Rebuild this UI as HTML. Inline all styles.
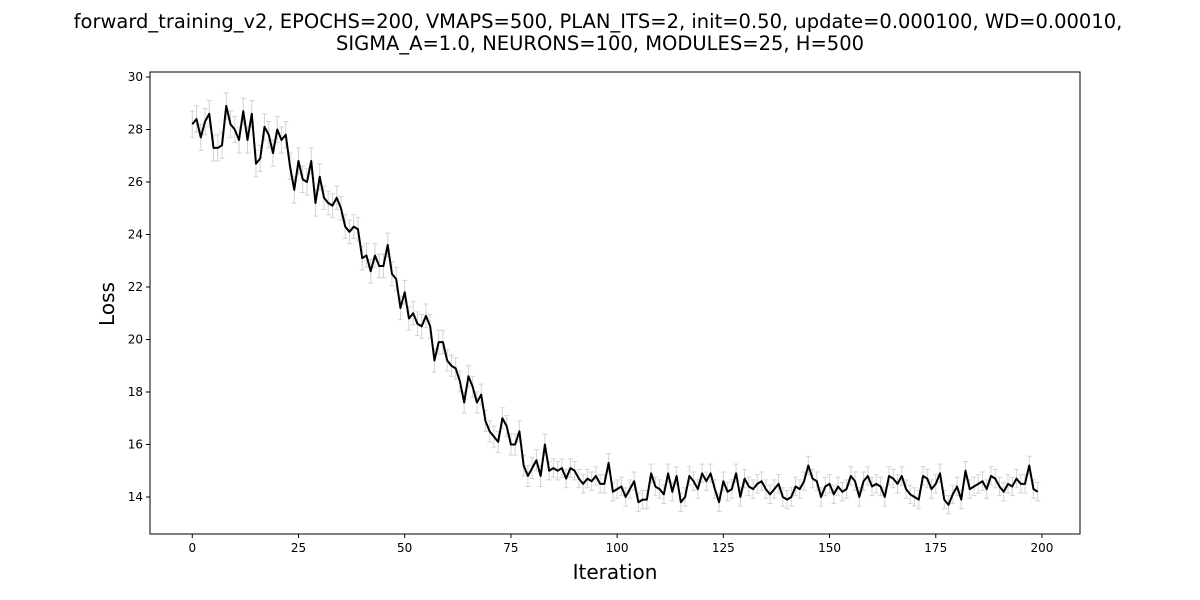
<!DOCTYPE html>
<html><head><meta charset="utf-8"><style>
body{margin:0;background:#fff;}
svg{display:block;font-family:"DejaVu Sans","Liberation Sans",sans-serif;}
</style></head><body>
<svg id="chart" width="1200" height="600">
<text x="598" y="28" text-anchor="middle" font-size="19.5">forward_training_v2, EPOCHS=200, VMAPS=500, PLAN_ITS=2, init=0.50, update=0.000100, WD=0.00010,</text>
<text x="600" y="50" text-anchor="middle" font-size="19.5">SIGMA_A=1.0, NEURONS=100, MODULES=25, H=500</text>
<text x="615" y="579" text-anchor="middle" font-size="20">Iteration</text>
<text transform="translate(114,304) rotate(-90)" text-anchor="middle" font-size="20">Loss</text>
<g id="errs"></g><g id="line"></g><g id="axes"></g>
</svg>
<script>
const lossValues=[
28.2,28.4,27.7,28.3,28.6,27.3,27.3,27.4,28.9,28.2,28.0,27.6,28.7,27.6,28.6,26.7,26.9,28.1,27.8,27.1,28.0,27.6,27.8,26.6,25.7,
26.8,26.1,26.0,26.8,25.2,26.2,25.4,25.2,25.1,25.4,25.0,24.3,24.1,24.3,24.2,23.1,23.2,22.6,23.2,22.8,22.8,23.6,22.5,22.3,21.2,
21.8,20.8,21.0,20.6,20.5,20.9,20.5,19.2,19.9,19.9,19.2,19.0,18.9,18.4,17.6,18.6,18.2,17.6,17.9,16.9,16.5,16.3,16.1,17.0,16.7,
16.0,16.0,16.5,15.2,14.8,15.1,15.4,14.8,16.0,15.0,15.1,15.0,15.1,14.7,15.1,15.0,14.7,14.5,14.7,14.6,14.8,14.5,14.5,15.3,14.2,
14.3,14.4,14.0,14.3,14.6,13.8,13.9,13.9,14.9,14.4,14.3,14.1,14.9,14.2,14.8,13.8,14.0,14.8,14.6,14.3,14.9,14.6,14.9,14.3,13.8,
14.6,14.2,14.3,14.9,14.0,14.7,14.4,14.3,14.5,14.6,14.3,14.1,14.3,14.5,14.0,13.9,14.0,14.4,14.3,14.6,15.2,14.7,14.6,14.0,14.4,
14.5,14.1,14.4,14.2,14.3,14.8,14.6,14.0,14.6,14.8,14.4,14.5,14.4,14.0,14.8,14.7,14.5,14.8,14.3,14.1,14.0,13.9,14.8,14.7,14.3,
14.5,14.9,13.9,13.7,14.1,14.4,13.9,15.0,14.3,14.4,14.5,14.6,14.3,14.8,14.7,14.4,14.2,14.5,14.4,14.7,14.5,14.5,15.2,14.3,14.2];
const errValues=[
0.5,0.5,0.5,0.5,0.5,0.5,0.5,0.5,0.5,0.5,0.5,0.5,0.5,0.5,0.5,0.5,0.5,0.5,0.5,0.5,0.5,0.5,0.5,0.5,0.5,
0.5,0.5,0.5,0.5,0.5,0.5,0.45,0.45,0.45,0.45,0.45,0.45,0.45,0.45,0.45,0.45,0.45,0.45,0.45,0.45,0.45,0.45,0.45,0.45,0.45,
0.45,0.45,0.45,0.45,0.45,0.45,0.45,0.45,0.45,0.45,0.4,0.4,0.4,0.4,0.4,0.4,0.4,0.4,0.4,0.4,0.4,0.4,0.4,0.4,0.4,
0.4,0.4,0.4,0.4,0.4,0.4,0.4,0.4,0.4,0.35,0.35,0.35,0.35,0.35,0.35,0.35,0.35,0.35,0.35,0.35,0.35,0.35,0.35,0.35,0.35,
0.35,0.35,0.35,0.35,0.35,0.35,0.35,0.35,0.35,0.35,0.35,0.35,0.35,0.35,0.35,0.35,0.35,0.35,0.35,0.35,0.35,0.35,0.35,0.35,0.35,
0.35,0.35,0.35,0.35,0.35,0.35,0.35,0.35,0.35,0.35,0.35,0.35,0.35,0.35,0.35,0.35,0.35,0.35,0.35,0.35,0.35,0.35,0.35,0.35,0.35,
0.35,0.35,0.35,0.35,0.35,0.35,0.35,0.35,0.35,0.35,0.35,0.35,0.35,0.35,0.35,0.35,0.35,0.35,0.35,0.35,0.35,0.35,0.35,0.35,0.35,
0.35,0.35,0.35,0.35,0.35,0.35,0.35,0.35,0.35,0.35,0.35,0.35,0.35,0.35,0.35,0.35,0.35,0.35,0.35,0.35,0.35,0.35,0.35,0.35,0.35];
const xTicks=[0,25,50,75,100,125,150,175,200];
const yTicks=[14,16,18,20,22,24,26,28,30];
const L=150,R=1080,T=72,B=534;
const xMin=-9.95,xMax=208.95,yMin=12.59,yMax=30.19;
const sx=v=>L+(v-xMin)/(xMax-xMin)*(R-L);
const sy=v=>B-(v-yMin)/(yMax-yMin)*(B-T);
const NS='http://www.w3.org/2000/svg';
function mk(tag,attrs,parent){const e=document.createElementNS(NS,tag);for(const k in attrs)e.setAttribute(k,attrs[k]);parent.appendChild(e);return e;}
const errs=document.getElementById('errs');
lossValues.forEach((v,i)=>{
  const x=sx(i),e=errValues[i],y1=sy(v-e),y2=sy(v+e);
  const p=mk('path',{d:`M${x},${y1}V${y2}M${x-2.5},${y1}H${x+2.5}M${x-2.5},${y2}H${x+2.5}`,stroke:'#d3d3d3','stroke-width':1,fill:'none'},errs);
  
  
});
const line=mk('polyline',{points:lossValues.map((v,i)=>sx(i)+','+sy(v)).join(' '),fill:'none',stroke:'#000','stroke-width':2,'stroke-linejoin':'round'},document.getElementById('line'));


const ax=document.getElementById('axes');
const fr=mk('rect',{x:L,y:T,width:R-L,height:B-T,fill:'none',stroke:'#000','stroke-width':1},ax);


xTicks.forEach(t=>{
  const x=sx(t);
  mk('line',{x1:x,x2:x,y1:B,y2:B+4,stroke:'#000'},ax);
  const tx=mk('text',{x:x,y:B+18,'text-anchor':'middle','font-size':12},ax);
  tx.textContent=t;
  
  
});
yTicks.forEach(t=>{
  const y=sy(t);
  mk('line',{x1:L-4,x2:L,y1:y,y2:y,stroke:'#000'},ax);
  const tx=mk('text',{x:L-7,y:y+4,'text-anchor':'end','font-size':12},ax);
  tx.textContent=t;
  
  
});
</script>
</body></html>
